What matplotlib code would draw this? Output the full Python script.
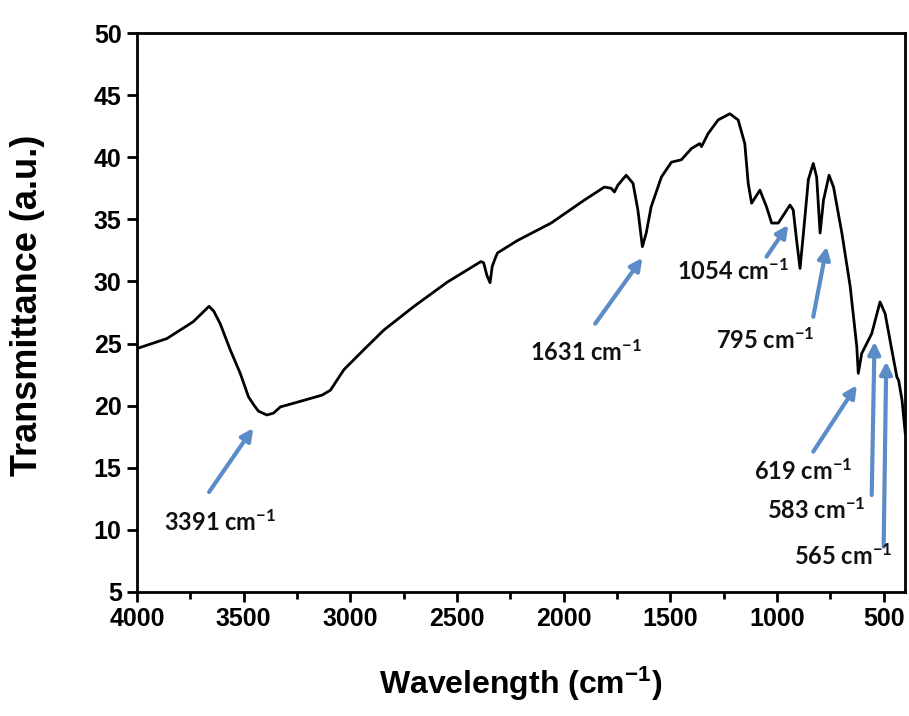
import matplotlib
matplotlib.use("Agg")
import matplotlib.pyplot as plt

# FTIR spectrum
wavenumber = [4000, 3860, 3737, 3662, 3640, 3610, 3563, 3516, 3477, 3450, 3430, 3391, 3360, 3328, 3265,
              3132, 3093, 3030, 2937, 2842, 2701, 2545, 2388, 2375, 2360, 2345, 2335,
              2320, 2310, 2216, 2059, 1903, 1809, 1777, 1762, 1746, 1707, 1675, 1652,
              1631, 1613, 1590, 1542, 1495, 1448, 1401, 1362, 1354, 1323, 1276, 1221,
              1182, 1151, 1135, 1119, 1080, 1049, 1025, 994, 939, 924, 908, 892, 876,
              853, 830, 814, 798, 782, 756, 735, 696, 657, 626, 619, 603, 556, 517,
              493, 462, 438, 430, 414, 399]
transmittance = [24.6, 25.4, 26.75, 28.0, 27.6, 26.6, 24.5, 22.6, 20.7, 20.0, 19.55, 19.25, 19.4, 19.9, 20.2,
                 20.85, 21.25, 22.9, 24.5, 26.1, 28.0, 29.95, 31.6, 31.5, 30.5, 29.9, 31.2,
                 31.9, 32.3, 33.3, 34.7, 36.55, 37.6, 37.5, 37.2, 37.75, 38.55, 37.9, 35.75,
                 32.8, 33.9, 36.0, 38.4, 39.6, 39.8, 40.7, 41.1, 40.85, 41.9, 43.0, 43.5,
                 43.0, 41.1, 37.9, 36.3, 37.35, 36.0, 34.7, 34.7, 36.15, 35.75, 33.3, 31.05, 33.9,
                 38.2, 39.5, 38.4, 33.9, 36.55, 38.55, 37.6, 33.9, 29.6, 24.75, 22.6, 24.2, 25.8, 28.35,
                 27.4, 24.5, 22.3, 22.05, 20.45, 17.8]

# peak labels: text, text position, arrow tail, arrow head (data units)
peak_labels = ["3391 cm$^{-1}$", "1631 cm$^{-1}$", "1054 cm$^{-1}$", "795 cm$^{-1}$",
               "619 cm$^{-1}$", "583 cm$^{-1}$", "565 cm$^{-1}$"]
label_xy = [(3610, 10.6), (1894, 24.3), (1206, 30.8), (1057, 25.3),
            (877, 14.7), (814, 11.6), (689, 7.9)]
arrow_tail = [(3662, 13.05), (1852, 26.6), (1049, 32.0), (830, 27.15),
              (830, 16.3), (556, 12.8), (500, 8.65)]
arrow_head = [(3455, 18.2), (1631, 31.9), (947, 34.55), (767, 32.8),
              (626, 21.65), (543, 25.15), (488, 23.55)]

plt.rcParams['mathtext.fontset'] = 'custom'
plt.rcParams['mathtext.rm'] = 'Lato:bold'
plt.rcParams['mathtext.it'] = 'Lato:bold'
plt.rcParams['mathtext.bf'] = 'Lato:bold'

fig = plt.figure(figsize=(9.09, 7.16), dpi=100)
ax = fig.add_axes([0.1507, 0.1732, 0.8449, 0.7807])

ax.plot(wavenumber, transmittance, color='black', lw=2)

arrow_color = '#5b8cc8'
for lab, txy, tail, head in zip(peak_labels, label_xy, arrow_tail, arrow_head):
    ax.annotate('', xy=head, xytext=tail,
                arrowprops=dict(arrowstyle='-|>', color=arrow_color, lw=3,
                                mutation_scale=18, shrinkA=0, shrinkB=0))
    ax.text(txy[0], txy[1], lab, fontsize=17, fontfamily='Lato', fontweight='bold',
            ha='center', va='center', color='#111111')

ax.set_xlim(4000, 400)
ax.set_ylim(5, 50)
ax.set_xticks(range(4000, 400, -500))
ax.set_xticks(range(3750, 400, -500), minor=True)
ax.set_yticks(range(5, 51, 5))

for s in ax.spines.values():
    s.set_linewidth(2)
ax.tick_params(axis='both', which='major', direction='out', length=7, width=2, pad=4)
ax.tick_params(axis='x', which='minor', direction='out', length=5, width=2)

for t in ax.get_xticklabels() + ax.get_yticklabels():
    t.set_fontfamily('Liberation Sans')
    t.set_fontweight('bold')
    t.set_fontsize(18)

plt.rcParams['mathtext.bf'] = 'Liberation Sans:bold'
ax.set_xlabel('Wavelength (cm$^{\\mathbf{-1}}$)', fontfamily='Liberation Sans',
              fontweight='bold', fontsize=23, labelpad=24)
ax.set_ylabel('Transmittance (a.u.)', fontfamily='Liberation Sans',
              fontweight='bold', fontsize=26)
ax.yaxis.set_label_coords(-0.12, 0.513)

fig.savefig('out.png', dpi=100)
